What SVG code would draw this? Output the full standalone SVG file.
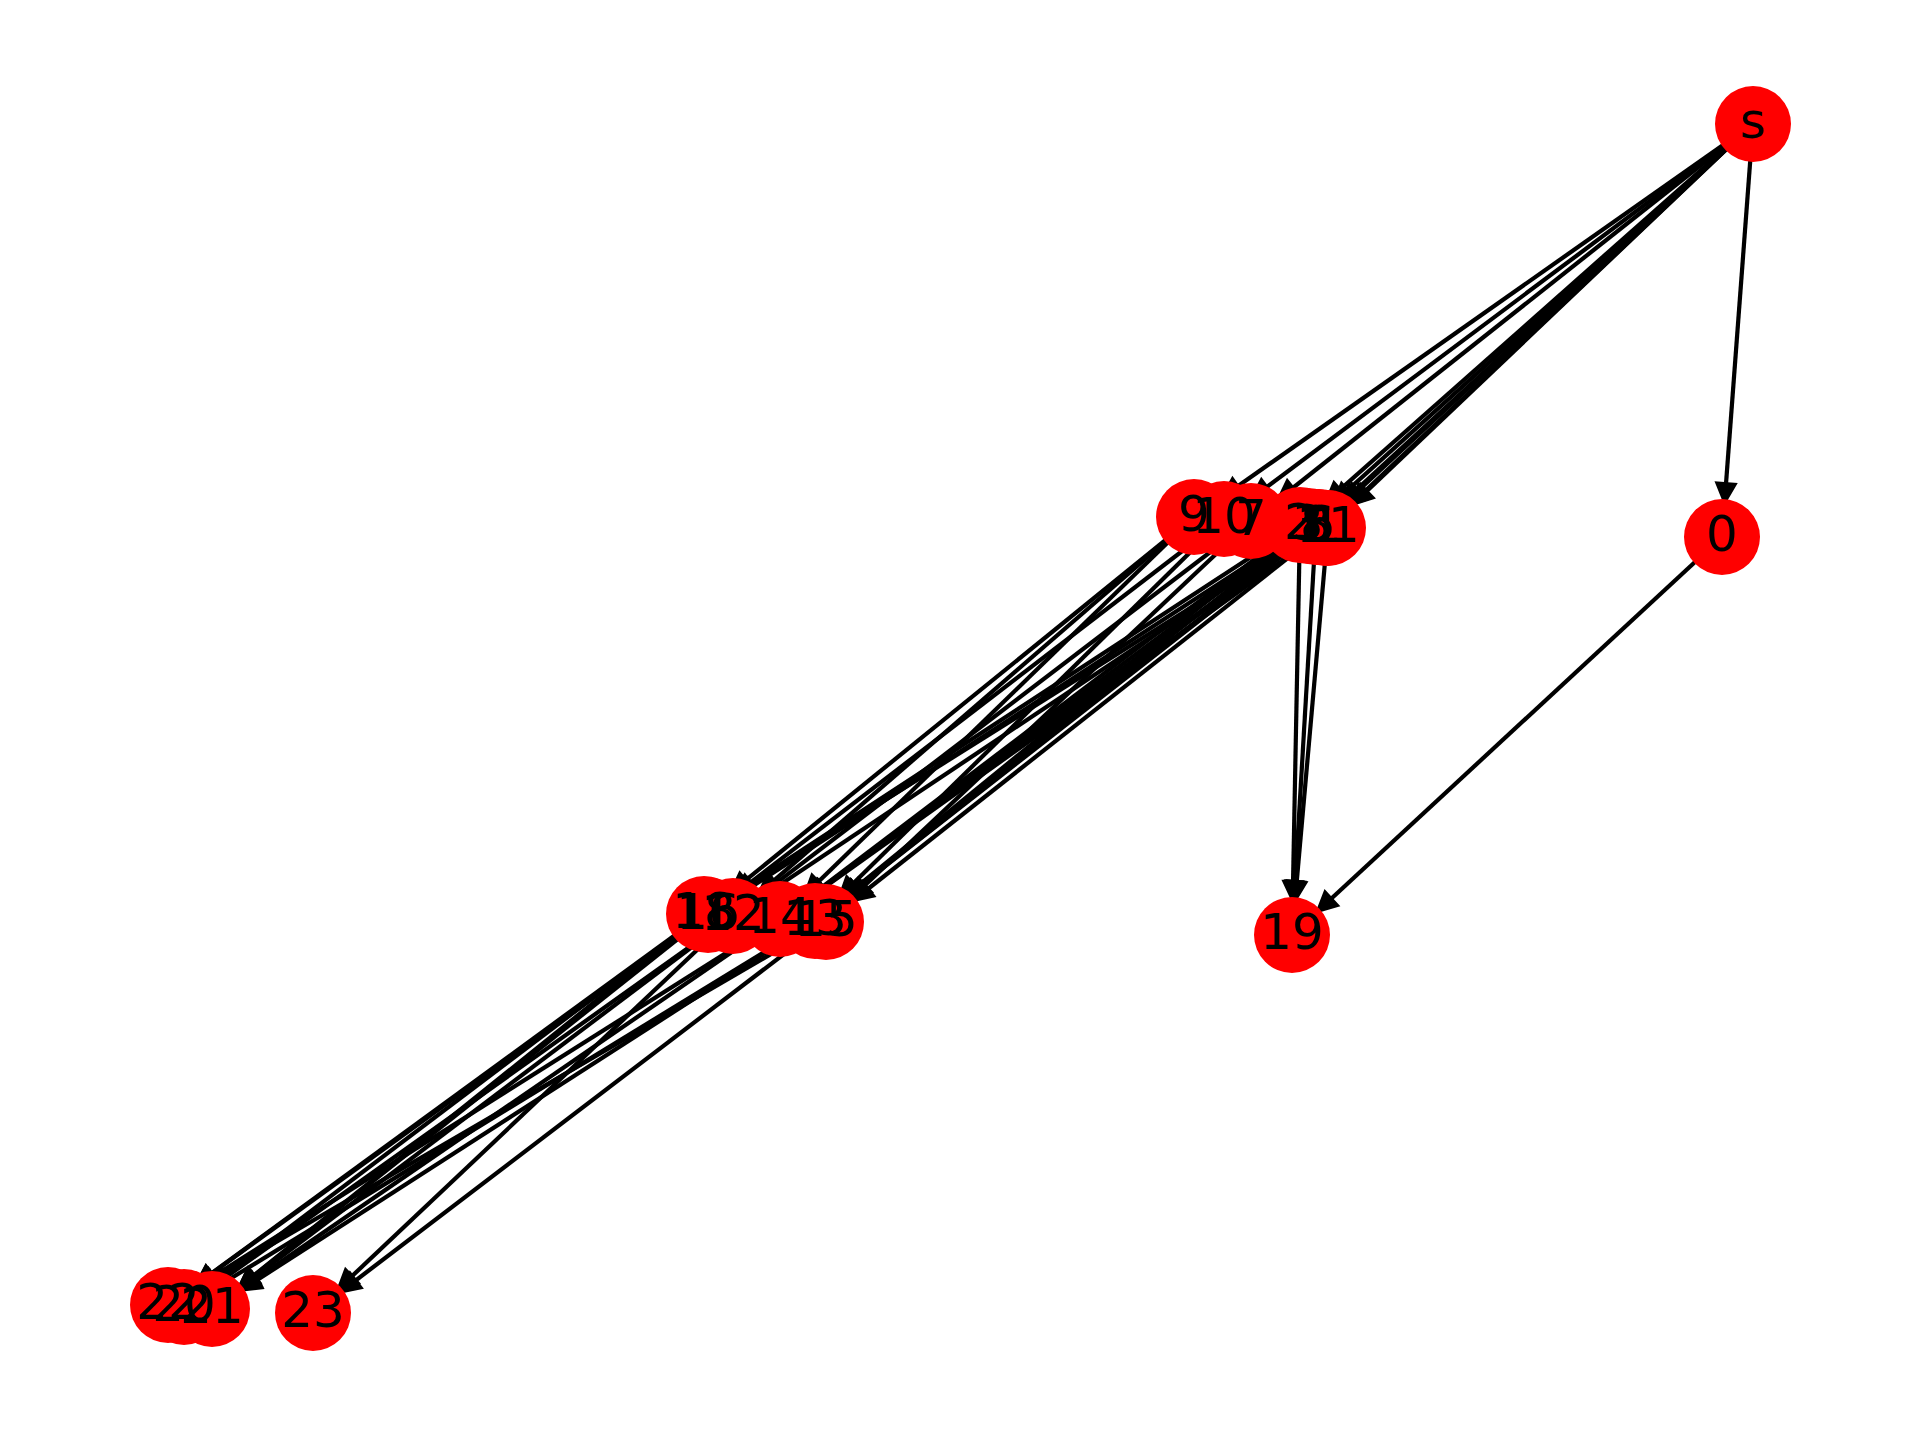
<svg xmlns="http://www.w3.org/2000/svg" width="1920" height="1440" viewBox="0 0 1920 1440">
<style>
.e{stroke:#000;stroke-width:4.2;fill:none;marker-end:url(#ah)}
.n circle{fill:#ff0000}
.n text{font-family:"DejaVu Sans",sans-serif;font-size:50px;fill:#000;text-anchor:middle}
</style>
<defs>
<marker id="ah" markerUnits="userSpaceOnUse" markerWidth="1" markerHeight="1" refX="0" refY="0" orient="auto" overflow="visible">
<path d="M-36,0 L-53,-8.3 L-53,8.3 Z" fill="#000" stroke="#000" stroke-width="4.2" stroke-linejoin="miter"/>
</marker>
</defs>
<rect width="1920" height="1440" fill="#fff"/>
<g id="edges">
<line class="e" x1="1753" y1="124" x2="1722" y2="537"/>
<line class="e" x1="1753" y1="124" x2="1194" y2="517"/>
<line class="e" x1="1753" y1="124" x2="1224" y2="519"/>
<line class="e" x1="1753" y1="124" x2="1251" y2="521"/>
<line class="e" x1="1753" y1="124" x2="1300" y2="525"/>
<line class="e" x1="1753" y1="124" x2="1308" y2="526"/>
<line class="e" x1="1753" y1="124" x2="1316" y2="527"/>
<line class="e" x1="1753" y1="124" x2="1319" y2="527"/>
<line class="e" x1="1753" y1="124" x2="1326" y2="528"/>
<line class="e" x1="1753" y1="124" x2="1328" y2="528"/>
<line class="e" x1="1722" y1="537" x2="1292" y2="935"/>
<line class="e" x1="1300" y1="525" x2="1292" y2="935"/>
<line class="e" x1="1316" y1="527" x2="1292" y2="935"/>
<line class="e" x1="1328" y1="528" x2="1292" y2="935"/>
<line class="e" x1="1194" y1="517" x2="704" y2="914"/>
<line class="e" x1="1194" y1="517" x2="733" y2="916"/>
<line class="e" x1="1194" y1="517" x2="780" y2="919"/>
<line class="e" x1="1224" y1="519" x2="708" y2="915"/>
<line class="e" x1="1224" y1="519" x2="815" y2="921"/>
<line class="e" x1="1251" y1="521" x2="733" y2="916"/>
<line class="e" x1="1251" y1="521" x2="826" y2="922"/>
<line class="e" x1="1300" y1="525" x2="704" y2="914"/>
<line class="e" x1="1300" y1="525" x2="780" y2="919"/>
<line class="e" x1="1300" y1="525" x2="815" y2="921"/>
<line class="e" x1="1308" y1="526" x2="708" y2="915"/>
<line class="e" x1="1308" y1="526" x2="815" y2="921"/>
<line class="e" x1="1308" y1="526" x2="780" y2="919"/>
<line class="e" x1="1316" y1="527" x2="733" y2="916"/>
<line class="e" x1="1316" y1="527" x2="780" y2="919"/>
<line class="e" x1="1316" y1="527" x2="815" y2="921"/>
<line class="e" x1="1319" y1="527" x2="704" y2="914"/>
<line class="e" x1="1319" y1="527" x2="815" y2="921"/>
<line class="e" x1="1319" y1="527" x2="780" y2="919"/>
<line class="e" x1="1326" y1="528" x2="826" y2="922"/>
<line class="e" x1="1328" y1="528" x2="780" y2="919"/>
<line class="e" x1="704" y1="914" x2="168" y2="1305"/>
<line class="e" x1="704" y1="914" x2="184" y2="1307"/>
<line class="e" x1="704" y1="914" x2="212" y2="1309"/>
<line class="e" x1="708" y1="915" x2="168" y2="1305"/>
<line class="e" x1="708" y1="915" x2="212" y2="1309"/>
<line class="e" x1="733" y1="916" x2="184" y2="1307"/>
<line class="e" x1="733" y1="916" x2="212" y2="1309"/>
<line class="e" x1="733" y1="916" x2="313" y2="1313"/>
<line class="e" x1="780" y1="919" x2="168" y2="1305"/>
<line class="e" x1="780" y1="919" x2="212" y2="1309"/>
<line class="e" x1="815" y1="921" x2="184" y2="1307"/>
<line class="e" x1="815" y1="921" x2="212" y2="1309"/>
<line class="e" x1="826" y1="922" x2="168" y2="1305"/>
<line class="e" x1="826" y1="922" x2="313" y2="1313"/>
</g>
<g id="node-s" class="n"><circle cx="1753" cy="124" r="38"/><text x="1753" y="138">s</text></g>
<g id="node-0" class="n"><circle cx="1722" cy="537" r="38"/><text x="1722" y="551">0</text></g>
<g id="node-9" class="n"><circle cx="1194" cy="517" r="38"/></g>
<g id="node-10" class="n"><circle cx="1224" cy="519" r="38"/></g>
<g id="node-7" class="n"><circle cx="1251" cy="521" r="38"/></g>
<g id="node-2" class="n"><circle cx="1300" cy="525" r="38"/></g>
<g id="node-3" class="n"><circle cx="1308" cy="526" r="38"/></g>
<g id="node-8" class="n"><circle cx="1316" cy="527" r="38"/></g>
<g id="node-6" class="n"><circle cx="1319" cy="527" r="38"/></g>
<g id="node-1" class="n"><circle cx="1326" cy="528" r="38"/></g>
<g id="node-11" class="n"><circle cx="1328" cy="528" r="38"/></g>
<g id="node-18" class="n"><circle cx="704" cy="914" r="38"/></g>
<g id="node-16" class="n"><circle cx="708" cy="915" r="38"/></g>
<g id="node-12" class="n"><circle cx="733" cy="916" r="38"/></g>
<g id="node-14" class="n"><circle cx="780" cy="919" r="38"/></g>
<g id="node-13" class="n"><circle cx="815" cy="921" r="38"/></g>
<g id="node-15" class="n"><circle cx="826" cy="922" r="38"/></g>
<g id="node-19" class="n"><circle cx="1292" cy="935" r="38"/><text x="1292" y="949">19</text></g>
<g id="node-22" class="n"><circle cx="168" cy="1305" r="38"/></g>
<g id="node-20" class="n"><circle cx="184" cy="1307" r="38"/></g>
<g id="node-21" class="n"><circle cx="212" cy="1309" r="38"/></g>
<g id="node-23" class="n"><circle cx="313" cy="1313" r="38"/><text x="313" y="1327">23</text></g>
<g id="labels" class="n">
<text x="1194" y="531">9</text>
<text x="1224" y="533">10</text>
<text x="1251" y="535">7</text>
<text x="1300" y="539">2</text>
<text x="1308" y="540">3</text>
<text x="1316" y="541">8</text>
<text x="1319" y="541">6</text>
<text x="1326" y="542">1</text>
<text x="1328" y="542">11</text>
<text x="704" y="928">18</text>
<text x="708" y="929">16</text>
<text x="733" y="930">12</text>
<text x="780" y="933">14</text>
<text x="815" y="935">13</text>
<text x="826" y="936">15</text>
<text x="168" y="1319">22</text>
<text x="184" y="1321">20</text>
<text x="212" y="1323">21</text>
</g>
</svg>
